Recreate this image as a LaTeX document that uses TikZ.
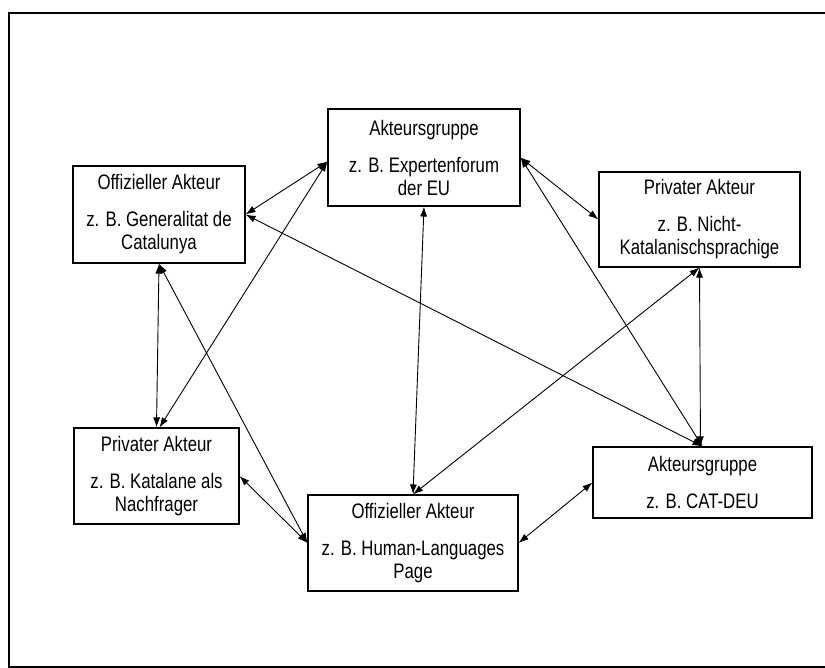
\documentclass[tikz,border=0pt]{standalone}
\usepackage{fontspec}
\setmainfont{Liberation Sans}[FakeStretch=0.8]
\usetikzlibrary{arrows.meta}

\begin{document}
\begin{tikzpicture}[x=1pt, y=-1pt,
    akteur/.style={draw, line width=1.1pt, inner sep=0pt, align=center,
      font=\fontsize{21}{23}\selectfont, minimum height=96pt},
    link/.style={{Latex[length=10pt,width=7pt]}-{Latex[length=10pt,width=7pt]}, line width=0.9pt}]
  % Akteursnetz — offizielle und private Akteure, Akteursgruppen
  \useasboundingbox (0,0) rectangle (825,668);
  \draw[line width=1.2pt] (840,13) -- (9,13) -- (9,667) -- (840,667);
  \node[akteur, minimum width=192pt, minimum height=97pt] (gruppeEU) at (424,157.5)
    {Akteursgruppe\\[14pt] z. B. Expertenforum\\der EU};
  \node[akteur, minimum width=172pt, minimum height=97pt] (offGen) at (159,214.5)
    {Offizieller Akteur\\[14pt] z. B. Generalitat de\\Catalunya};
  \node[akteur, minimum width=201pt, minimum height=95pt] (privNicht) at (699.5,219.5)
    {Privater Akteur\\[14pt] z. B. Nicht-\\Katalanischsprachige};
  \node[akteur, minimum width=165pt] (privKat) at (156.5,476)
    {Privater Akteur\\[14pt] z. B. Katalane als\\Nachfrager};
  \node[akteur, minimum width=210pt] (offHL) at (413,543)
    {Offizieller Akteur\\[14pt] z. B. Human-Languages\\Page};
  \node[akteur, minimum width=219pt, minimum height=71pt] (gruppeCAT) at (702.5,482.5)
    {Akteursgruppe\\[14pt] z. B. CAT-DEU};
  \draw[link] ([yshift=-4pt]gruppeEU.west) -- (offGen.east);
  \draw[link] ([yshift=-4pt]gruppeEU.west) -- ([xshift=3pt]privKat.north);
  \draw[link] (offGen.south) -- (privKat.north);
  \draw[link] (offGen.south) -- (offHL.west);
  \draw[link] (privKat.east) -- (offHL.west);
  \draw[link] (offGen.east) -- (gruppeCAT.north);
  \draw[link] (gruppeEU.south) -- (offHL.north);
  \draw[link] (gruppeEU.east) -- (privNicht.west);
  \draw[link] (gruppeEU.east) -- (gruppeCAT.north);
  \draw[link] (privNicht.south) -- ([xshift=-2pt]gruppeCAT.north);
  \draw[link] (privNicht.south) -- (offHL.north);
  \draw[link] (offHL.east) -- (gruppeCAT.west);
\end{tikzpicture}
\end{document}
